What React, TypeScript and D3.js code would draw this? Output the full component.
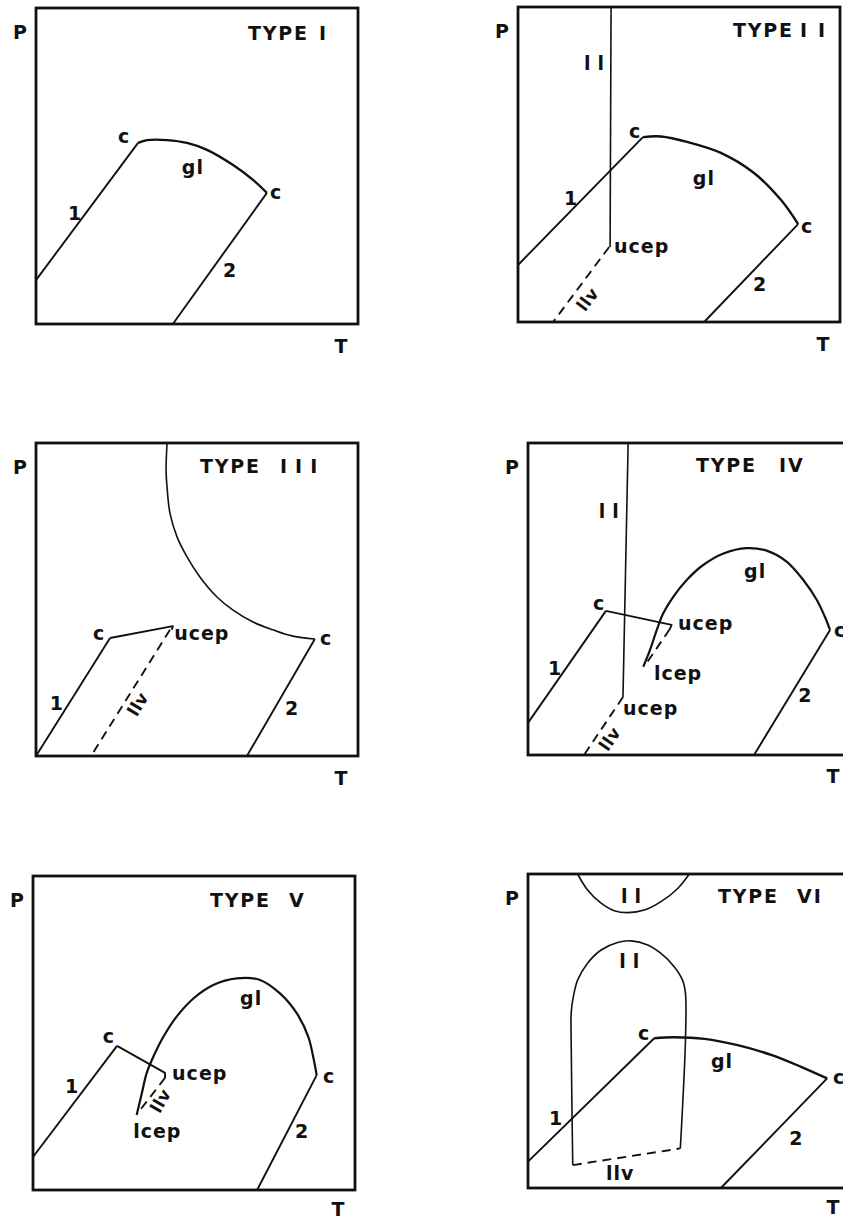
import React from 'react';
import * as d3 from 'd3';

type Pt = [number, number];
type Label = { t: string; T: number; P: number; rot?: number };

// ---- TYPE I ----
const t1Line1: Pt[] = [[0, 13.9], [31.7, 57.3]];
const t1Gl: Pt[] = [[31.7, 57.3], [34.5, 58.2], [40.7, 58.2], [46.9, 57.3], [53.1, 55.1], [61.2, 50.3], [67.4, 45.6], [71.7, 41.5]];
const t1Line2: Pt[] = [[71.7, 41.5], [42.5, 0]];
const t1Labels: Label[] = [
  { t: 'c', T: 25.5, P: 57.3 }, { t: 'gl', T: 45.3, P: 47.5 }, { t: 'c', T: 72.7, P: 39.6 },
  { t: '1', T: 9.9, P: 32.9 }, { t: '2', T: 58.1, P: 14.9 },
];

// ---- TYPE II ----
const t2LL: Pt[] = [[28.9, 100], [28.6, 23.8]];
const t2Line1: Pt[] = [[0, 18.1], [38.8, 58.7]];
const t2Gl: Pt[] = [[38.8, 58.7], [44.4, 58.9], [52.8, 57.1], [63.0, 53.7], [73.3, 47.3], [81.7, 38.7], [87.0, 31.1]];
const t2Line2: Pt[] = [[87.0, 31.1], [57.8, 0]];
const t2LLV: Pt[] = [[28.3, 23.8], [10.9, 0]];
const t2Labels: Label[] = [
  { t: 'll', T: 20.5, P: 80.0 }, { t: 'c', T: 34.5, P: 58.4 }, { t: 'gl', T: 54.3, P: 43.5 },
  { t: 'c', T: 87.9, P: 28.3 }, { t: 'ucep', T: 29.8, P: 21.9 }, { t: '1', T: 14.3, P: 37.1 },
  { t: '2', T: 73.0, P: 9.8 }, { t: 'llv', T: 21.6, P: 7.2, rot: -53 },
];

// ---- TYPE III ----
const t3Upper: Pt[] = [[40.7, 100], [40.4, 91.4], [40.7, 85.9], [41.6, 77.6], [43.8, 70.0], [46.9, 63.6], [50.9, 57.2],
  [56.2, 50.8], [61.2, 46.6], [67.4, 42.8], [73.6, 40.3], [79.8, 38.3], [86.6, 37.4]];
const t3Line1: Pt[] = [[0, 0], [23.0, 37.7]];
const t3Ucep: Pt[] = [[23.0, 37.7], [42.5, 41.5], [42.2, 40.3]];
const t3LLV: Pt[] = [[41.6, 40.3], [17.1, 0]];
const t3Line2: Pt[] = [[86.6, 37.4], [65.5, 0]];
const t3Labels: Label[] = [
  { t: 'c', T: 17.7, P: 37.1 }, { t: 'ucep', T: 42.9, P: 37.1 }, { t: 'c', T: 88.2, P: 35.5 },
  { t: '1', T: 4.3, P: 14.7 }, { t: '2', T: 77.3, P: 13.1 }, { t: 'llv', T: 31.6, P: 16.6, rot: -59 },
];

// ---- TYPE IV ----
const t4LL: Pt[] = [[31.1, 100], [29.5, 18.6]];
const t4Line1: Pt[] = [[0, 10.3], [24.2, 46.2]];
const t4Ucep: Pt[] = [[24.2, 46.2], [44.6, 41.7], [44.0, 40.3]];
const t4LLVUpper: Pt[] = [[44.0, 40.3], [36.2, 28.5]];
const t4Gl: Pt[] = [[35.8, 28.3], [37.9, 33.7], [40.0, 40.1], [42.0, 45.4], [45.1, 50.7], [49.3, 56.1], [54.4, 60.9],
  [60.7, 64.6], [67.9, 66.3], [74.1, 65.5], [80.3, 62.0], [85.5, 56.1], [89.7, 49.7], [92.2, 44.3], [93.8, 40.1]];
const t4Line2: Pt[] = [[93.8, 40.1], [70.2, 0]];
const t4LLVLower: Pt[] = [[29.5, 18.6], [17.4, 0]];
const t4Labels: Label[] = [
  { t: 'll', T: 22.0, P: 76.0 }, { t: 'c', T: 20.2, P: 46.5 }, { t: 'ucep', T: 46.6, P: 40.1 },
  { t: 'lcep', T: 39.1, P: 24.0 }, { t: 'ucep', T: 29.5, P: 12.8 }, { t: 'gl', T: 67.1, P: 56.7 },
  { t: 'c', T: 95.0, P: 37.8 }, { t: '1', T: 6.2, P: 25.6 }, { t: '2', T: 83.9, P: 17.0 },
  { t: 'llv', T: 25.4, P: 5.2, rot: -55 },
];

// ---- TYPE V ----
const t5Line1: Pt[] = [[0, 10.5], [26.1, 45.9]];
const t5Ucep: Pt[] = [[26.1, 45.9], [41.0, 37.3], [41.0, 35.7]];
const t5LLV: Pt[] = [[41.0, 35.7], [32.6, 24.6]];
const t5Gl: Pt[] = [[32.2, 23.9], [33.8, 30.8], [35.3, 37.2], [37.4, 42.5], [40.5, 48.8], [44.6, 55.2], [49.8, 61.0],
  [56.0, 65.3], [63.3, 67.4], [70.5, 66.9], [76.7, 62.6], [81.9, 56.3], [85.5, 48.8], [87.0, 42.5], [88.1, 36.6]];
const t5Line2: Pt[] = [[88.1, 36.6], [69.6, 0]];
const t5Labels: Label[] = [
  { t: 'c', T: 21.7, P: 46.8 }, { t: 'ucep', T: 43.2, P: 35.0 }, { t: 'lcep', T: 31.1, P: 16.6 },
  { t: 'gl', T: 64.3, P: 58.9 }, { t: 'c', T: 90.1, P: 34.1 }, { t: '1', T: 9.9, P: 30.9 },
  { t: '2', T: 81.4, P: 16.6 }, { t: 'llv', T: 39.6, P: 28.4, rot: -60 },
];

// ---- TYPE VI ----
const t6TopLL: Pt[] = [[15.4, 100], [18.5, 94.9], [22.7, 90.7], [26.8, 88.3], [31.0, 87.7], [36.1, 88.5], [41.3, 91.2],
  [46.5, 95.4], [50.1, 100]];
const t6Dome: Pt[] = [[13.9, 7.3], [13.4, 47.1], [13.4, 55.6], [13.9, 59.9], [15.4, 66.2], [18.5, 71.6], [22.7, 75.8],
  [27.8, 78.2], [32.0, 78.7], [37.2, 77.4], [41.3, 74.7], [45.4, 70.5], [48.0, 66.2], [48.9, 62.0], [48.9, 47.1],
  [48.0, 25.9], [47.3, 12.6]];
const t6LLV: Pt[] = [[13.9, 7.3], [47.3, 12.6]];
const t6Line1: Pt[] = [[0, 8.4], [39.2, 47.7]];
const t6Gl: Pt[] = [[39.2, 47.7], [45.4, 48.0], [54.8, 47.5], [65.1, 45.5], [75.5, 42.4], [84.8, 38.6], [92.9, 34.9]];
const t6Line2: Pt[] = [[92.9, 34.9], [59.9, 0]];
const t6Labels: Label[] = [
  { t: 'll', T: 28.9, P: 90.8 }, { t: 'll', T: 28.3, P: 70.1 }, { t: 'c', T: 34.2, P: 47.1 },
  { t: 'gl', T: 56.8, P: 38.2 }, { t: 'c', T: 94.7, P: 33.1 }, { t: '1', T: 6.5, P: 20.1 },
  { t: '2', T: 81.1, P: 13.7 }, { t: 'llv', T: 24.2, P: 2.5 },
];

const numerals = ['I', 'II', 'III', 'IV', 'V', 'VI'];

type Curve = { pts: Pt[]; dash?: boolean; smooth?: boolean; w?: number };

const W = 322;
const FS = 19;
const SPACE = 0.348 * FS; // width of a space in DejaVu Sans Bold

const panels: { x: number; y: number; h: number; tdx: number; tdy: number; ndx: number; nls: number; tY: number;
  curves: Curve[]; labels: Label[] }[] = [
  { x: 36, y: 8, h: 316, tdx: 212, tdy: 32, ndx: 71, nls: 0, tY: 29, labels: t1Labels,
    curves: [{ pts: t1Line1 }, { pts: t1Gl, smooth: true, w: 2.4 }, { pts: t1Line2 }] },
  { x: 518, y: 7, h: 315, tdx: 215, tdy: 30, ndx: 67, nls: 11, tY: 29, labels: t2Labels,
    curves: [{ pts: t2LL, w: 1.6 }, { pts: t2Line1 }, { pts: t2Gl, smooth: true, w: 2.4 }, { pts: t2Line2 }, { pts: t2LLV, dash: true }] },
  { x: 36, y: 443, h: 313, tdx: 164, tdy: 30, ndx: 80, nls: 8, tY: 29, labels: t3Labels,
    curves: [{ pts: t3Upper, smooth: true, w: 1.6 }, { pts: t3Line1 }, { pts: t3Ucep }, { pts: t3LLV, dash: true }, { pts: t3Line2 }] },
  { x: 528, y: 443, h: 312, tdx: 168, tdy: 29, ndx: 83, nls: 2, tY: 28, labels: t4Labels,
    curves: [{ pts: t4LL, w: 1.6 }, { pts: t4Line1 }, { pts: t4Ucep }, { pts: t4LLVUpper, dash: true },
      { pts: t4Gl, smooth: true, w: 2.2 }, { pts: t4Line2 }, { pts: t4LLVLower, dash: true }] },
  { x: 33, y: 876, h: 314, tdx: 177, tdy: 31, ndx: 79, nls: 0, tY: 26, labels: t5Labels,
    curves: [{ pts: t5Line1 }, { pts: t5Ucep }, { pts: t5LLV, dash: true }, { pts: t5Gl, smooth: true, w: 2.2 }, { pts: t5Line2 }] },
  { x: 528, y: 874, h: 314, tdx: 190, tdy: 29, ndx: 79, nls: 2, tY: 26, labels: t6Labels,
    curves: [{ pts: t6TopLL, smooth: true, w: 1.6 }, { pts: t6Dome, smooth: true, w: 1.6 }, { pts: t6LLV, dash: true },
      { pts: t6Line1 }, { pts: t6Gl, smooth: true, w: 2.4 }, { pts: t6Line2 }] },
];

const FONT = '"DejaVu Sans", Arial, sans-serif';
const INK = '#111';

function Panel({ p, idx }: { p: typeof panels[number]; idx: number }) {
  const x = d3.scaleLinear().domain([0, 100]).range([0, W]);
  const y = d3.scaleLinear().domain([0, 100]).range([p.h, 0]);
  const straight = d3.line<Pt>().x(d => x(d[0])).y(d => y(d[1]));
  const smooth = d3.line<Pt>().x(d => x(d[0])).y(d => y(d[1])).curve(d3.curveCatmullRom.alpha(0.5));
  return (
    <g transform={`translate(${p.x},${p.y})`}>
      <rect x={0} y={0} width={W} height={p.h} fill="none" stroke={INK} strokeWidth={2.8} />
      {p.curves.map((c, i) => (
        <path key={i} d={(c.smooth ? smooth : straight)(c.pts) || ''} fill="none" stroke={INK}
          strokeWidth={c.w ?? 1.9} strokeDasharray={c.dash ? '9 6' : undefined} strokeLinejoin="round" />
      ))}
      <text x={-9} y={31} textAnchor="end" fontSize={FS} fontWeight="bold" fontFamily={FONT} fill={INK}>P</text>
      <text x={305} y={p.h + p.tY} textAnchor="middle" fontSize={FS} fontWeight="bold" fontFamily={FONT} fill={INK}>T</text>
      <text y={p.tdy} fontSize={FS} fontWeight="bold" fontFamily={FONT} fill={INK}>
        <tspan x={p.tdx} letterSpacing={1.8}>TYPE</tspan>
        <tspan x={p.tdx + p.ndx - SPACE - p.nls} letterSpacing={p.nls}>{' ' + numerals[idx]}</tspan>
      </text>
      {p.labels.map((l, i) => {
        const ls = l.t === 'll' ? 7 : 1;
        if (l.rot !== undefined) {
          return (
            <text key={i} transform={`translate(${x(l.T)},${y(l.P)}) rotate(${l.rot})`} textAnchor="middle"
              dominantBaseline="central" fontSize={17} fontWeight="bold" fontFamily={FONT} fill={INK} letterSpacing={0.5}>
              {l.t}
            </text>
          );
        }
        return (
          <text key={i} x={x(l.T)} y={y(l.P)} fontSize={FS} fontWeight="bold" fontFamily={FONT} fill={INK} letterSpacing={ls}>
            {l.t}
          </text>
        );
      })}
    </g>
  );
}

export default function App() {
  return (
    <svg width={843} height={1218} style={{ position: 'absolute', left: 0, top: 0, background: '#fff' }}>
      <rect width={843} height={1218} fill="#fff" />
      {panels.map((p, i) => <Panel key={i} p={p} idx={i} />)}
    </svg>
  );
}
